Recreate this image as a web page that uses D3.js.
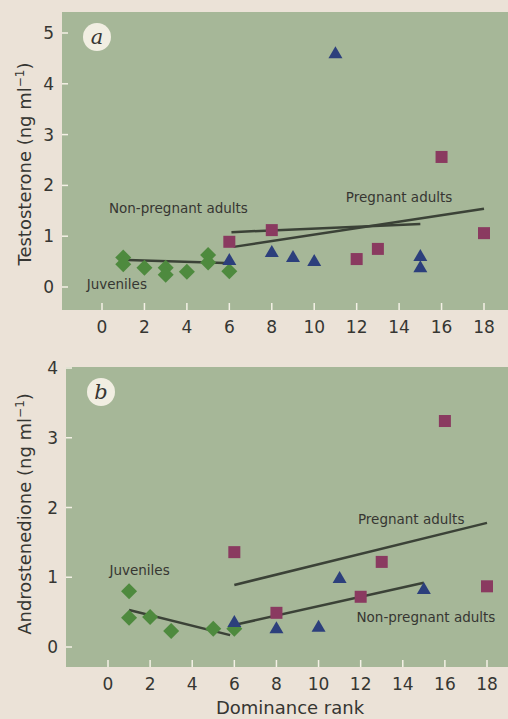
<!DOCTYPE html>
<html>
<head>
<meta charset="utf-8">
<script src="https://cdn.jsdelivr.net/npm/d3@7"></script>
<style>
  body { margin: 0; background: #ebe2d7; }
  svg { display: block; }
  text { font-family: "DejaVu Sans", sans-serif; fill: #363632; }
</style>
</head>
<body>
<svg class="chart"></svg>
<script>
// tick labels
var xTicks = [0, 2, 4, 6, 8, 10, 12, 14, 16, 18];
var yTicksA = [0, 1, 2, 3, 4, 5];
var yTicksB = [0, 1, 2, 3, 4];

// panel a: testosterone, [rank, value]
var juvA = [[1, 0.58], [1, 0.45], [2, 0.38], [3, 0.38], [3, 0.24], [4, 0.3], [5, 0.63], [5, 0.48], [6, 0.31]];
var pregA = [[6, 0.89], [8, 1.12], [12, 0.55], [13, 0.75], [16, 2.56], [18, 1.06]];
var nonPregA = [[6, 0.53], [8, 0.69], [9, 0.59], [10, 0.51], [11, 4.6], [15, 0.61], [15, 0.39]];
var juvLineA = [[1.2, 0.53], [5.8, 0.47]];
var nonPregLineA = [[6.1, 1.08], [15, 1.24]];
var pregLineA = [[6.2, 0.79], [18, 1.54]];

// panel b: androstenedione
var juvB = [[1, 0.8], [1, 0.42], [2, 0.43], [3, 0.23], [5, 0.26], [6, 0.26]];
var pregB = [[6, 1.36], [8, 0.49], [12, 0.72], [13, 1.22], [16, 3.24], [18, 0.87]];
var nonPregB = [[6, 0.36], [8, 0.27], [10, 0.29], [11, 0.99], [15, 0.83]];
var juvLineB = [[1, 0.53], [5.8, 0.17]];
var nonPregLineB = [[6.2, 0.33], [15, 0.92]];
var pregLineB = [[6, 0.89], [18, 1.78]];

var svg = d3.select(".chart")
    .attr("width", 508)
    .attr("height", 719);

var panels = [
  { tag: "a", title: "Testosterone (ng ml", yTicks: yTicksA, yMax: 5,
    box: [62, 12, 508, 310], xr: [102, 484], yr: [287, 33], titleY: 164,
    juv: juvA, preg: pregA, non: nonPregA,
    lines: [juvLineA, nonPregLineA, pregLineA],
    labels: [["Juveniles", 0.7, -0.03], ["Non-pregnant adults", 3.6, 1.45], ["Pregnant adults", 14, 1.67]] },
  { tag: "b", title: "Androstenedione (ng ml", yTicks: yTicksB, yMax: 4,
    box: [66, 367, 508, 667], xr: [108, 487], yr: [647, 368], titleY: 514,
    juv: juvB, preg: pregB, non: nonPregB,
    lines: [juvLineB, nonPregLineB, pregLineB],
    labels: [["Juveniles", 1.5, 1.03], ["Pregnant adults", 14.4, 1.76], ["Non-pregnant adults", 15.1, 0.36]] }
];

panels.forEach(function(p) {
  var x = d3.scaleLinear().domain([0, 18]).range(p.xr);
  var y = d3.scaleLinear().domain([0, p.yMax]).range(p.yr);
  var g = svg.append("g");
  var b = p.box;

  g.append("rect")
      .attr("x", b[0])
      .attr("y", b[1])
      .attr("width", b[2] - b[0])
      .attr("height", b[3] - b[1])
      .attr("fill", "#a6b798");

  // y ticks (white, inside the plot)
  g.selectAll(".yt").data(p.yTicks).enter().append("line")
      .attr("x1", b[0]).attr("x2", b[0] + 6)
      .attr("y1", d => y(d)).attr("y2", d => y(d))
      .attr("stroke", "#f4f1e6").attr("stroke-width", 1.5);

  g.selectAll(".yl").data(p.yTicks).enter().append("text")
      .attr("x", b[0] - 8)
      .attr("y", d => y(d) + 6)
      .attr("text-anchor", "end")
      .style("font-size", "17px")
      .text(d => d);

  // x ticks
  g.selectAll(".xt").data(xTicks).enter().append("line")
      .attr("x1", d => x(d)).attr("x2", d => x(d))
      .attr("y1", b[3] - 7).attr("y2", b[3])
      .attr("stroke", "#f4f1e6").attr("stroke-width", 1.5);

  g.selectAll(".xl").data(xTicks).enter().append("text")
      .attr("x", d => x(d))
      .attr("y", b[3] + 23)
      .attr("text-anchor", "middle")
      .style("font-size", "17px")
      .text(d => d);

  // axis title
  var t = g.append("text")
      .attr("transform", "translate(31," + p.titleY + ") rotate(-90)")
      .attr("text-anchor", "middle")
      .style("font-size", "18px")
      .text(p.title);
  t.append("tspan").attr("dy", -7).style("font-size", "12px").text("\u22121");
  t.append("tspan").attr("dy", 7).text(")");

  // fitted lines
  g.selectAll(".fit").data(p.lines).enter().append("line")
      .attr("x1", d => x(d[0][0])).attr("y1", d => y(d[0][1]))
      .attr("x2", d => x(d[1][0])).attr("y2", d => y(d[1][1]))
      .attr("stroke", "#3b4237").attr("stroke-width", 2.5);

  // markers
  g.selectAll(".juv").data(p.juv).enter().append("path")
      .attr("transform", d => "translate(" + x(d[0]) + "," + y(d[1]) + ")")
      .attr("d", "M0,-8L8,0L0,8L-8,0Z")
      .attr("fill", "#4e8a3e");

  g.selectAll(".non").data(p.non).enter().append("path")
      .attr("transform", d => "translate(" + x(d[0]) + "," + y(d[1]) + ")")
      .attr("d", "M0,-7L7,5L-7,5Z")
      .attr("fill", "#2c3f7c");

  g.selectAll(".preg").data(p.preg).enter().append("rect")
      .attr("x", d => x(d[0]) - 6)
      .attr("y", d => y(d[1]) - 6)
      .attr("width", 12).attr("height", 12)
      .attr("fill", "#8a3a60");

  g.selectAll(".lab").data(p.labels).enter().append("text")
      .attr("x", d => x(d[1]))
      .attr("y", d => y(d[2]))
      .attr("text-anchor", "middle")
      .style("font-size", "13.5px")
      .text(d => d[0]);

  // panel letter
  g.append("circle")
      .attr("cx", b[0] + 35).attr("cy", b[1] + 25)
      .attr("r", 14)
      .attr("fill", "#f1eee2");
  g.append("text")
      .attr("x", b[0] + 35).attr("y", b[1] + 32)
      .attr("text-anchor", "middle")
      .style("font-family", "'DejaVu Serif', serif")
      .style("font-style", "italic")
      .style("font-size", "21px")
      .text(p.tag);
});

svg.append("text")
    .attr("x", 290)
    .attr("y", 714)
    .attr("text-anchor", "middle")
    .style("font-size", "18px")
    .text("Dominance rank");
</script>
</body>
</html>
